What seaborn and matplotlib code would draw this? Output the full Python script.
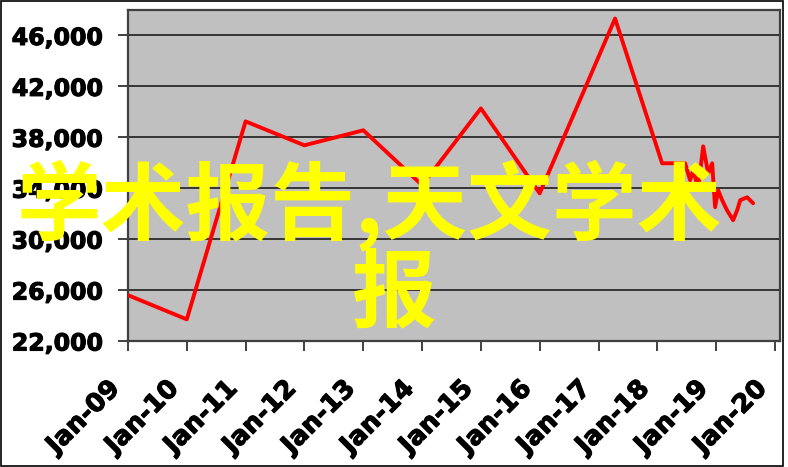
import matplotlib
matplotlib.use("Agg")
import matplotlib.pyplot as plt
import matplotlib.dates as mdates
import matplotlib.transforms as mtransforms
import matplotlib.patheffects as pe
from matplotlib.ticker import FuncFormatter
from matplotlib.patches import Rectangle
import pandas as pd
import seaborn as sns

# ---- data ----
dates = [
    "2009-01-01", "2010-01-01", "2011-01-01", "2012-01-01", "2013-01-01",
    "2014-01-01", "2015-01-01", "2016-01-01", "2017-04-13", "2018-01-30",
    "2018-06-22", "2018-07-23", "2018-08-11", "2018-09-11", "2018-10-12",
    "2018-11-12", "2018-12-07", "2018-12-25", "2019-01-13", "2019-02-07",
    "2019-03-09", "2019-04-16", "2019-05-11", "2019-05-30", "2019-07-12",
    "2019-08-18",
]
values = [
    25600, 23700, 39250, 37370, 38550,
    34240, 40270, 33600, 47330, 35960,
    35960, 34630, 35410, 34000, 37290,
    35180, 35960, 32510, 33840, 33060,
    32270, 31490, 32270, 33060, 33290,
    32820,
]
y_ticks = [22000, 26000, 30000, 34000, 38000, 42000, 46000]
overlay_line1 = "学术报告,天文学术"
overlay_line2 = "报"

sns.set_theme(style="white")
plt.rcParams['font.family'] = ['DejaVu Sans']

fig = plt.figure(figsize=(7.88, 4.67), dpi=100)
fig.patch.set_facecolor('white')
ax = fig.add_axes([128 / 788, 1 - 341 / 467, 652 / 788, 331 / 467])
ax.set_facecolor('#C0C0C0')

df = pd.DataFrame({'date': pd.to_datetime(dates), 'value': values})
sns.lineplot(data=df, x='date', y='value', ax=ax, color='#FF0000',
             linewidth=2.8, sort=False, estimator=None, zorder=3)

ax.set_xlim(pd.Timestamp('2009-01-01'), pd.Timestamp('2020-02-01'))
ax.set_ylim(22000, 48000)
ax.set_yticks(y_ticks)
ax.yaxis.set_major_formatter(FuncFormatter(lambda v, p: f"{int(v):,}"))
ax.xaxis.set_major_locator(mdates.YearLocator())
ax.xaxis.set_major_formatter(mdates.DateFormatter('%b-%y'))
ax.set_xlabel('')
ax.set_ylabel('')

ax.grid(False)
ax.yaxis.grid(True, color='#2a2a2a', linewidth=1.3)
ax.set_axisbelow(True)
for s in ax.spines.values():
    s.set_color('#404040')
    s.set_linewidth(1.6)

ax.tick_params(axis='both', which='major', direction='out', length=7.5,
               width=1.3, color='#333333', labelcolor='black',
               bottom=True, left=True)
ax.tick_params(axis='y', pad=10.5, labelsize=17)
ax.tick_params(axis='x', pad=24, labelsize=18.5)

thick = [pe.withStroke(linewidth=0.8, foreground='black')]
for lab in ax.get_yticklabels():
    lab.set_fontweight('bold')
    lab.set_path_effects(thick)

fig.canvas.draw()
offset = mtransforms.ScaledTranslation(-12 / 100, 0, fig.dpi_scale_trans)
for tick in ax.xaxis.get_major_ticks():
    lab = tick.label1
    lab.set_fontweight('bold')
    lab.set_rotation(45)
    lab.set_ha('right')
    lab.set_va('center')
    lab.set_rotation_mode('anchor')
    lab.set_path_effects(thick)
    lab.set_transform(lab.get_transform() + offset)

# overlay text
cjk = ['Noto Sans CJK SC', 'DejaVu Sans']
fig.text(369 / 788, 1 - 205 / 467, overlay_line1, ha='center', va='center',
         fontsize=61, color='#FFFF00', family=cjk, fontweight='bold', zorder=10)
fig.text(394 / 788, 1 - 294 / 467, overlay_line2, ha='center', va='center',
         fontsize=61, color='#FFFF00', family=cjk, fontweight='bold', zorder=10)

# outer frame
fig.patches.append(Rectangle((0.5 / 788, 1.5 / 467), 782.5 / 788, 465 / 467,
                             transform=fig.transFigure, fill=False,
                             edgecolor='black', linewidth=1.2, zorder=20))

fig.savefig('out.png', dpi=100)
